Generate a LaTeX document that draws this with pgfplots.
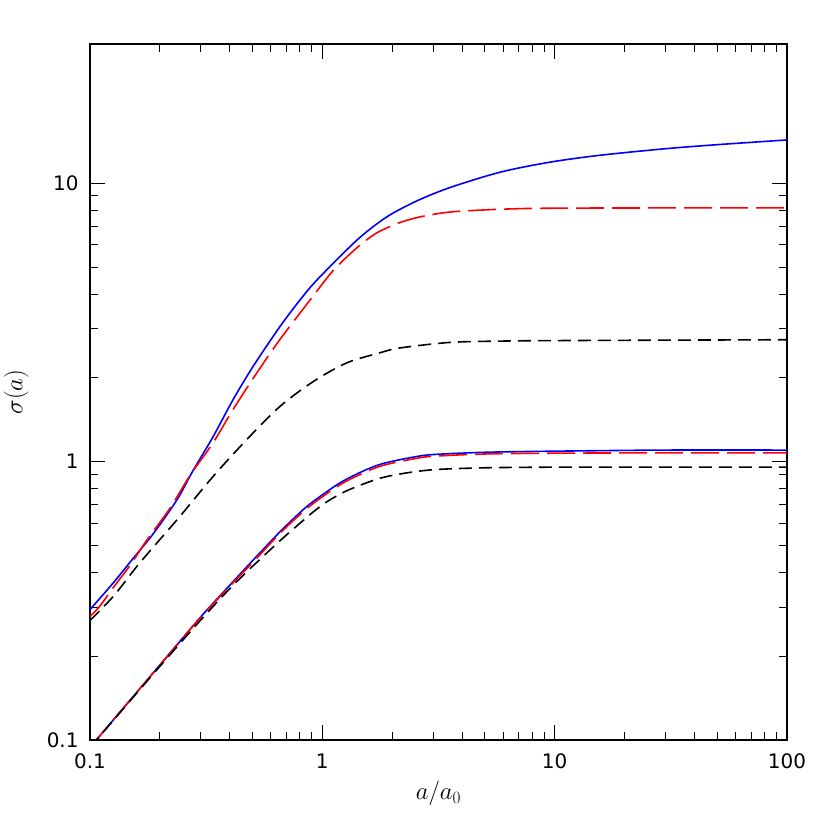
\documentclass[border=0pt]{standalone}
\usepackage{fontspec}
\setmainfont{DejaVu Sans}
\usepackage{pgfplots}
\pgfplotsset{compat=1.18}
\begin{document}
\begin{tikzpicture}
\begin{axis}[
  xmode=log, ymode=log,
  scale only axis, width=697bp, height=696bp,
  xmin=0.1, xmax=100, ymin=0.1, ymax=31.62,
  xtick={0.1,1,10,100}, xticklabels={0.1,1,10,100},
  ytick={0.1,1,10}, yticklabels={0.1,1,10},
  major tick length=15bp, minor tick length=8bp,
  tick style={black, line width=0.9bp},
  axis line style={line width=1.2bp},
  tick label style={font=\fontsize{20}{22}\selectfont},
  xticklabel style={yshift=-10bp},
  yticklabel style={xshift=-8bp},
  xlabel={$a/a_0$}, ylabel={$\sigma(a)$},
  label style={font=\fontsize{23}{26}\selectfont},
  xlabel style={at={(axis description cs:0.5,-0.077)}, anchor=center},
  ylabel style={at={(axis description cs:-0.106,0.5)}, anchor=center},
  every axis plot/.append style={line width=1.6bp, smooth},
]
% upper set
\addplot[blue] coordinates {
 (0.1,0.294) (0.126,0.367) (0.153,0.448) (0.187,0.55) (0.237,0.73)
 (0.278,0.93) (0.339,1.23) (0.413,1.67) (0.504,2.2) (0.658,3.06)
 (0.80,3.8) (0.915,4.35) (1.1,5.1) (1.41,6.25) (1.7,7.1) (2.01,7.8)
 (2.6,8.7) (3.55,9.65) (5.82,10.95) (9.55,11.9) (15.7,12.6) (30,13.3)
 (50,13.75) (100,14.3)};
\addplot[red, dash pattern=on 28bp off 8bp] coordinates {
 (0.1,0.278) (0.110,0.302) (0.126,0.353) (0.149,0.425) (0.175,0.52)
 (0.221,0.68) (0.269,0.89) (0.339,1.17) (0.413,1.54) (0.522,2.08)
 (0.658,2.75) (0.912,3.93) (1.1,4.8) (1.27,5.42) (1.45,5.98) (1.7,6.6)
 (2.09,7.15) (2.6,7.55) (3.55,7.88) (5.82,8.06) (9.55,8.13) (30,8.15)
 (100,8.15)};
\addplot[black, dash pattern=on 13bp off 7bp] coordinates {
 (0.1,0.269) (0.126,0.328) (0.159,0.42) (0.194,0.51) (0.244,0.636)
 (0.339,0.885) (0.473,1.2) (0.658,1.58) (0.915,1.94) (1.27,2.26)
 (1.77,2.46) (2.16,2.56) (3.55,2.68) (6,2.71) (9.55,2.72) (30,2.73)
 (100,2.74)};
% lower set
\addplot[blue] coordinates {
 (0.1,0.094) (0.2,0.186) (0.3,0.277) (0.4,0.36) (0.5,0.44) (0.658,0.56)
 (0.8,0.655) (0.915,0.72) (1.19,0.838) (1.5,0.925) (1.83,0.985)
 (2.5,1.04) (3,1.06) (5,1.08) (10,1.09) (30,1.10) (100,1.10)};
\addplot[red, dash pattern=on 28bp off 8bp] coordinates {
 (0.1,0.094) (0.2,0.186) (0.3,0.276) (0.4,0.357) (0.5,0.433) (0.658,0.553)
 (0.8,0.645) (0.915,0.708) (1.19,0.825) (1.5,0.91) (1.83,0.97)
 (2.5,1.025) (3,1.045) (5,1.065) (10,1.072) (30,1.075) (100,1.075)};
\addplot[black, dash pattern=on 13bp off 7bp] coordinates {
 (0.1,0.094) (0.2,0.184) (0.3,0.27) (0.4,0.35) (0.5,0.42) (0.658,0.52)
 (0.8,0.6) (0.915,0.66) (1.04,0.715) (1.27,0.785) (1.72,0.865)
 (2.2,0.905) (3,0.935) (5,0.95) (10,0.955) (30,0.955) (100,0.955)};
\end{axis}
\pgfresetboundingbox
\path[use as bounding box] ([shift={(-90bp,-90bp)}]current axis.south west)
  rectangle ([shift={(43bp,44bp)}]current axis.north east);
\end{tikzpicture}
\end{document}
